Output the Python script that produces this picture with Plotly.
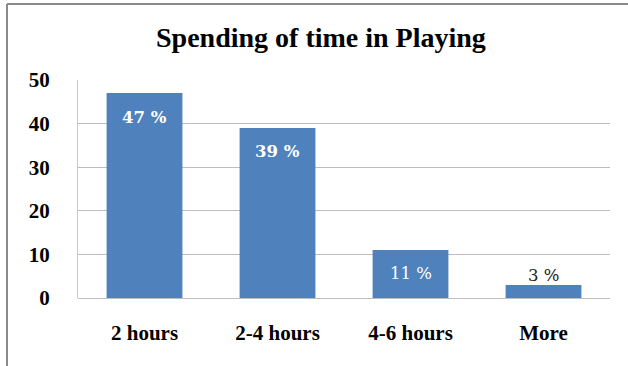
import plotly.graph_objects as go

categories = ["2 hours", "2-4 hours", "4-6 hours", "More"]
values = [47, 39, 11, 3]
labels = ["<b>47 %</b>", "<b>39 %</b>", "11 %", "3 %"]
label_colors = ["white", "white", "white", "#222222"]
label_shifts = [-24, -24, -23, 9]

fig = go.Figure()
fig.add_trace(go.Bar(
    x=categories, y=values,
    marker=dict(color="#4F81BD", line=dict(color="#4F81BD", width=0)),
    width=0.57, cliponaxis=False,
))

for c, v, t, col, s in zip(categories, values, labels, label_colors, label_shifts):
    fig.add_annotation(x=c, y=v, text=t, showarrow=False, yshift=s,
                       xanchor="center", yanchor="middle",
                       font=dict(family="DejaVu Serif", size=16.5, color=col))

fig.update_layout(
    width=628, height=366,
    margin=dict(l=78, r=18, t=80, b=68),
    paper_bgcolor="white", plot_bgcolor="white",
    title=dict(text="<b>Spending of time in Playing</b>", x=0.511, xanchor="center",
               y=0.897, yanchor="middle",
               font=dict(family="Liberation Serif", size=28, color="black")),
    showlegend=False,
    font=dict(family="Liberation Serif"),
    xaxis=dict(showgrid=False, showline=False, ticks="",
               tickfont=dict(family="Liberation Serif", size=21, color="black"),
               ticklabelstandoff=20,
               tickprefix="<b>", ticksuffix="</b>"),
    yaxis=dict(range=[0, 50], dtick=10, showgrid=True, gridcolor="#BDBDBD", gridwidth=1,
               showline=True, linecolor="#C8C8C8", linewidth=1, ticks="",
               zeroline=True, zerolinecolor="#BDBDBD", zerolinewidth=1,
               tickfont=dict(family="Liberation Serif", size=21, color="black"),
               tickprefix="<b>", ticksuffix="</b>",
               ticklabelstandoff=23),
)

# outer frame
fig.add_shape(type="line", xref="paper", yref="paper",
              x0=(7 - 78) / 532, x1=(640 - 78) / 532, y0=(298 - 4) / 218, y1=(298 - 4) / 218,
              line=dict(color="#8A8A8A", width=2))
fig.add_shape(type="line", xref="paper", yref="paper",
              x0=(7 - 78) / 532, x1=(7 - 78) / 532, y0=(298 - 4) / 218, y1=(298 - 400) / 218,
              line=dict(color="#8A8A8A", width=2))

fig.write_html("out.html")
